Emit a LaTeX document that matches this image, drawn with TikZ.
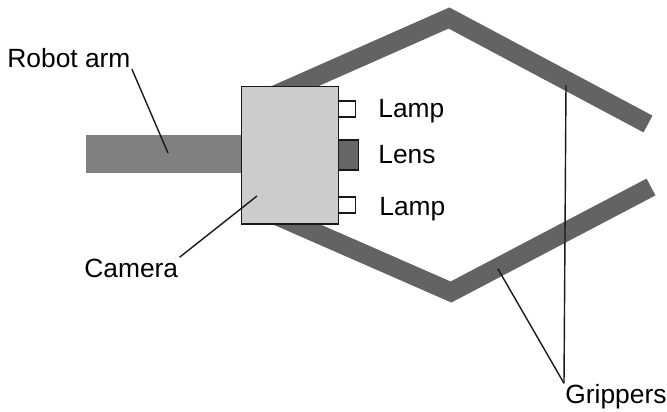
\documentclass[tikz,border=0pt]{standalone}
\usepackage{fontspec}
\setmainfont{Liberation Sans}
\usepackage{xcolor}
\usetikzlibrary{positioning}

\begin{document}
\begin{tikzpicture}[
    x=0.03cm, y=-0.03cm,
    part/.style={draw=black!90, line width=1.2pt, inner sep=0pt},
    lbl/.style={inner sep=1pt, font=\fontsize{22.5}{26}\selectfont},
    grip/.style={line width=0.57cm, black!61, line join=miter},
    lead/.style={line width=1.2pt, black!90}
]
\useasboundingbox (0,0) rectangle (667,411);

% --- Pinzas ---
\coordinate (gupL) at (250,106);
\coordinate (gupA) at (449,18);
\coordinate (gupE) at (648,124);
\coordinate (gloL) at (250,204);
\coordinate (gloA) at (451,292);
\coordinate (gloE) at (651,187);
\draw[grip] (gupL) -- (gupA) -- (gupE);
\draw[grip] (gloL) -- (gloA) -- (gloE);

% --- Brazo y camara ---
\node[minimum width=4.65cm, minimum height=1.14cm, inner sep=0pt, fill=black!50,
      anchor=west] (arm) at (86,154) {};
\node[part, fill=black!20, minimum width=2.91cm, minimum height=4.12cm,
      anchor=north west] (cam) at (241,86) {};

% --- Lamparas y lente ---
\node[part, fill=white, minimum width=0.51cm, minimum height=0.48cm,
      anchor=west] (lampup) at (338,109) {};
\node[part, fill=white, minimum width=0.51cm, minimum height=0.48cm,
      anchor=west] (lamplo) at (338,205) {};
\node[part, fill=black!60, minimum width=0.6cm, minimum height=0.9cm,
      anchor=west] (lens) at (338,155) {};

% --- Etiquetas ---
\node[lbl, anchor=west] (lbllampup) at (377,111) {Lamp};
\node[lbl, anchor=west] (lbllens) at (377,155) {Lens};
\node[lbl, anchor=west] (lbllamplo) at (378,209) {Lamp};
\node[lbl, anchor=west] (lblarm) at (6,58) {Robot arm};
\node[lbl, anchor=west] (lblcam) at (83,268) {Camera};
\node[lbl, anchor=west] (lblgrip) at (564,397) {Grippers};

% --- Lineas de referencia ---
\coordinate (armtip) at (168,153);
\coordinate (camtip) at (257,196);
\coordinate (gripup) at (566,85);
\coordinate (griplo) at (498,269);
\draw[lead] (lblarm.south east) -- (armtip);
\draw[lead] (lblcam.north east) -- (camtip);
\draw[lead] (lblgrip.north west) -- (gripup);
\draw[lead] (lblgrip.north west) -- (griplo);
\end{tikzpicture}
\end{document}
